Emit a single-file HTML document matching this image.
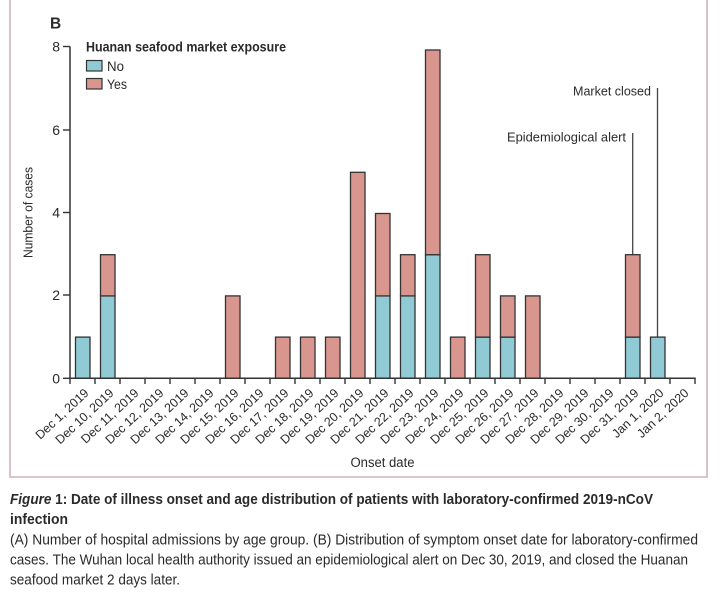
<!DOCTYPE html>
<html>
<head>
<meta charset="utf-8">
<style>
html,body{margin:0;padding:0;background:#fff;}
svg{display:block;}
text{font-family:"Liberation Sans",sans-serif;fill:#2a2a2a;}
</style>
</head>
<body>
<svg width="725" height="600" viewBox="0 0 725 600" xmlns="http://www.w3.org/2000/svg">
<rect x="0" y="0" width="725" height="600" fill="#ffffff"/>
<!-- frame -->
<path d="M10,-2 V477 H707 V-2" fill="none" stroke="#d2b3b8" stroke-width="1.6"/>

<!-- panel label -->
<text x="50" y="28.5" font-size="15.5" font-weight="bold">B</text>

<!-- legend -->
<text x="86" y="51.5" font-size="13.5" font-weight="bold" textLength="200" lengthAdjust="spacingAndGlyphs">Huanan seafood market exposure</text>
<rect x="86.5" y="60.5" width="15.5" height="10.5" fill="#8fcad5" stroke="#333" stroke-width="1.2"/>
<text x="107" y="71" font-size="13.5" textLength="17" lengthAdjust="spacingAndGlyphs">No</text>
<rect x="86.5" y="78.5" width="15.5" height="10.5" fill="#d9968f" stroke="#333" stroke-width="1.2"/>
<text x="107" y="89" font-size="13.5" textLength="20" lengthAdjust="spacingAndGlyphs">Yes</text>

<!-- y axis -->
<line x1="70" y1="46.5" x2="70" y2="378.3" stroke="#333" stroke-width="1.5"/>
<g stroke="#333" stroke-width="1.4">
<line x1="63" y1="46.5" x2="70" y2="46.5"/>
<line x1="63" y1="130" x2="70" y2="130"/>
<line x1="63" y1="212.5" x2="70" y2="212.5"/>
<line x1="63" y1="295" x2="70" y2="295"/>
<line x1="63" y1="378.3" x2="70" y2="378.3"/>
</g>
<g font-size="14" text-anchor="end">
<text x="60" y="51.5">8</text>
<text x="60" y="135">6</text>
<text x="60" y="217.5">4</text>
<text x="60" y="300">2</text>
<text x="60" y="383.3">0</text>
</g>
<text transform="translate(32.5,212.5) rotate(-90)" font-size="13" text-anchor="middle" textLength="91" lengthAdjust="spacingAndGlyphs">Number of cases</text>

<!-- annotation lines -->
<line x1="632.7" y1="133" x2="632.7" y2="254.7" stroke="#444" stroke-width="1.3"/>
<line x1="657.5" y1="88" x2="657.5" y2="337.1" stroke="#444" stroke-width="1.3"/>
<text x="626" y="141.5" font-size="13" text-anchor="end" textLength="119" lengthAdjust="spacingAndGlyphs">Epidemiological alert</text>
<text x="651" y="95.5" font-size="13" text-anchor="end" textLength="78" lengthAdjust="spacingAndGlyphs">Market closed</text>

<!-- bars -->
<g stroke="#333" stroke-width="1.3">
<!-- Dec 1 -->
<rect x="75.5" y="337.1" width="14.5" height="41.2" fill="#8fcad5"/>
<!-- Dec 10 -->
<rect x="100.5" y="295.9" width="14.5" height="82.4" fill="#8fcad5"/>
<rect x="100.5" y="254.7" width="14.5" height="41.2" fill="#d9968f"/>
<!-- Dec 15 -->
<rect x="225.5" y="295.9" width="14.5" height="82.4" fill="#d9968f"/>
<!-- Dec 17,18,19 -->
<rect x="275.5" y="337.1" width="14.5" height="41.2" fill="#d9968f"/>
<rect x="300.5" y="337.1" width="14.5" height="41.2" fill="#d9968f"/>
<rect x="325.5" y="337.1" width="14.5" height="41.2" fill="#d9968f"/>
<!-- Dec 20 -->
<rect x="350.5" y="172.3" width="14.5" height="206" fill="#d9968f"/>
<!-- Dec 21 -->
<rect x="375.5" y="295.9" width="14.5" height="82.4" fill="#8fcad5"/>
<rect x="375.5" y="213.5" width="14.5" height="82.4" fill="#d9968f"/>
<!-- Dec 22 -->
<rect x="400.5" y="295.9" width="14.5" height="82.4" fill="#8fcad5"/>
<rect x="400.5" y="254.7" width="14.5" height="41.2" fill="#d9968f"/>
<!-- Dec 23 -->
<rect x="425.5" y="254.7" width="14.5" height="123.6" fill="#8fcad5"/>
<rect x="425.5" y="50" width="14.5" height="204.7" fill="#d9968f"/>
<!-- Dec 24 -->
<rect x="450.5" y="337.1" width="14.5" height="41.2" fill="#d9968f"/>
<!-- Dec 25 -->
<rect x="475.5" y="337.1" width="14.5" height="41.2" fill="#8fcad5"/>
<rect x="475.5" y="254.7" width="14.5" height="82.4" fill="#d9968f"/>
<!-- Dec 26 -->
<rect x="500.5" y="337.1" width="14.5" height="41.2" fill="#8fcad5"/>
<rect x="500.5" y="295.9" width="14.5" height="41.2" fill="#d9968f"/>
<!-- Dec 27 -->
<rect x="525.5" y="295.9" width="14.5" height="82.4" fill="#d9968f"/>
<!-- Dec 31 -->
<rect x="625.5" y="337.1" width="14.5" height="41.2" fill="#8fcad5"/>
<rect x="625.5" y="254.7" width="14.5" height="82.4" fill="#d9968f"/>
<!-- Jan 1 -->
<rect x="650.5" y="337.1" width="14.5" height="41.2" fill="#8fcad5"/>
</g>

<!-- x axis -->
<line x1="69.3" y1="378.3" x2="695.7" y2="378.3" stroke="#333" stroke-width="1.5"/>
<g stroke="#333" stroke-width="1.4">
<line x1="70" y1="378" x2="70" y2="384"/>
<line x1="95" y1="378" x2="95" y2="384"/>
<line x1="120" y1="378" x2="120" y2="384"/>
<line x1="145" y1="378" x2="145" y2="384"/>
<line x1="170" y1="378" x2="170" y2="384"/>
<line x1="195" y1="378" x2="195" y2="384"/>
<line x1="220" y1="378" x2="220" y2="384"/>
<line x1="245" y1="378" x2="245" y2="384"/>
<line x1="270" y1="378" x2="270" y2="384"/>
<line x1="295" y1="378" x2="295" y2="384"/>
<line x1="320" y1="378" x2="320" y2="384"/>
<line x1="345" y1="378" x2="345" y2="384"/>
<line x1="370" y1="378" x2="370" y2="384"/>
<line x1="395" y1="378" x2="395" y2="384"/>
<line x1="420" y1="378" x2="420" y2="384"/>
<line x1="445" y1="378" x2="445" y2="384"/>
<line x1="470" y1="378" x2="470" y2="384"/>
<line x1="495" y1="378" x2="495" y2="384"/>
<line x1="520" y1="378" x2="520" y2="384"/>
<line x1="545" y1="378" x2="545" y2="384"/>
<line x1="570" y1="378" x2="570" y2="384"/>
<line x1="595" y1="378" x2="595" y2="384"/>
<line x1="620" y1="378" x2="620" y2="384"/>
<line x1="645" y1="378" x2="645" y2="384"/>
<line x1="670" y1="378" x2="670" y2="384"/>
<line x1="695" y1="378" x2="695" y2="384"/>
</g>

<!-- x tick labels -->
<g font-size="12.5" text-anchor="end">
<text transform="translate(89.5,394) rotate(-43)">Dec 1, 2019</text>
<text transform="translate(114.5,394) rotate(-43)">Dec 10, 2019</text>
<text transform="translate(139.5,394) rotate(-43)">Dec 11, 2019</text>
<text transform="translate(164.5,394) rotate(-43)">Dec 12, 2019</text>
<text transform="translate(189.5,394) rotate(-43)">Dec 13, 2019</text>
<text transform="translate(214.5,394) rotate(-43)">Dec 14, 2019</text>
<text transform="translate(239.5,394) rotate(-43)">Dec 15, 2019</text>
<text transform="translate(264.5,394) rotate(-43)">Dec 16, 2019</text>
<text transform="translate(289.5,394) rotate(-43)">Dec 17, 2019</text>
<text transform="translate(314.5,394) rotate(-43)">Dec 18, 2019</text>
<text transform="translate(339.5,394) rotate(-43)">Dec 19, 2019</text>
<text transform="translate(364.5,394) rotate(-43)">Dec 20, 2019</text>
<text transform="translate(389.5,394) rotate(-43)">Dec 21, 2019</text>
<text transform="translate(414.5,394) rotate(-43)">Dec 22, 2019</text>
<text transform="translate(439.5,394) rotate(-43)">Dec 23, 2019</text>
<text transform="translate(464.5,394) rotate(-43)">Dec 24, 2019</text>
<text transform="translate(489.5,394) rotate(-43)">Dec 25, 2019</text>
<text transform="translate(514.5,394) rotate(-43)">Dec 26, 2019</text>
<text transform="translate(539.5,394) rotate(-43)">Dec 27, 2019</text>
<text transform="translate(564.5,394) rotate(-43)">Dec 28, 2019</text>
<text transform="translate(589.5,394) rotate(-43)">Dec 29, 2019</text>
<text transform="translate(614.5,394) rotate(-43)">Dec 30, 2019</text>
<text transform="translate(639.5,394) rotate(-43)">Dec 31, 2019</text>
<text transform="translate(664.5,394) rotate(-43)">Jan 1, 2020</text>
<text transform="translate(689.5,394) rotate(-43)">Jan 2, 2020</text>
</g>

<text x="382.5" y="467" font-size="13.5" text-anchor="middle" textLength="64" lengthAdjust="spacingAndGlyphs">Onset date</text>

<!-- caption -->
<g font-size="14.5">
<text x="10" y="504" font-weight="bold" textLength="643" lengthAdjust="spacingAndGlyphs"><tspan font-style="italic">Figure</tspan> 1: Date of illness onset and age distribution of patients with laboratory-confirmed 2019-nCoV</text>
<text x="10" y="524" font-weight="bold" textLength="58" lengthAdjust="spacingAndGlyphs">infection</text>
<text x="10" y="544.5" textLength="688" lengthAdjust="spacingAndGlyphs">(A) Number of hospital admissions by age group. (B) Distribution of symptom onset date for laboratory-confirmed</text>
<text x="10" y="564.5" textLength="678" lengthAdjust="spacingAndGlyphs">cases. The Wuhan local health authority issued an epidemiological alert on Dec 30, 2019, and closed the Huanan</text>
<text x="10" y="584.5" textLength="170" lengthAdjust="spacingAndGlyphs">seafood market 2 days later.</text>
</g>
</svg>
</body>
</html>
